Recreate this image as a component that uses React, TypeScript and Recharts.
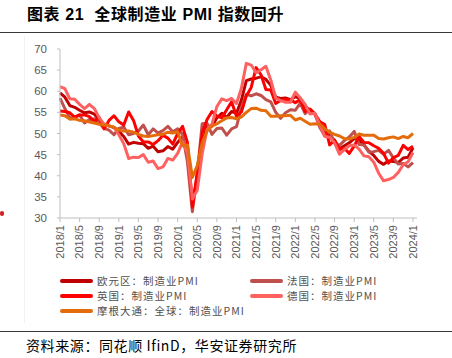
import React from "react";
import { LineChart, Line, XAxis, YAxis } from "recharts";

// Months 2018/1 .. 2024/1
const months: string[] = [];
for (let y = 2018; y <= 2024; y++) {
  for (let m = 1; m <= 12; m++) {
    if (y === 2024 && m > 1) break;
    months.push(`${y}/${m}`);
  }
}

const euroArea = [
  59.6, 58.6, 56.6, 56.2, 55.5, 54.9, 55.1, 54.6, 53.2, 52.0, 51.8, 51.4,
  50.5, 49.3, 47.5, 47.9, 47.7, 47.6, 46.5, 47.0, 45.7, 45.9, 46.9, 46.3,
  47.9, 49.2, 44.5, 33.4, 39.4, 47.4, 51.8, 51.7, 53.7, 54.8, 53.8, 55.2,
  54.8, 57.9, 62.5, 62.9, 63.1, 63.4, 62.8, 61.4, 58.6, 58.3, 58.4, 58.0,
  58.7, 58.2, 56.5, 55.5, 54.6, 52.1, 49.8, 49.6, 48.4, 46.4, 47.1, 47.8,
  48.8, 48.5, 47.3, 45.8, 44.8, 43.4, 42.7, 43.5, 43.4, 43.1, 44.2, 44.4,
  46.6,
];
const france = [
  58.4, 55.9, 53.7, 53.8, 54.4, 52.5, 53.3, 53.5, 52.5, 51.2, 50.8, 49.7,
  51.2, 51.5, 49.7, 50.0, 50.6, 52.0, 49.7, 51.1, 50.1, 50.7, 51.7, 50.4,
  51.1, 49.8, 43.2, 31.5, 40.6, 52.3, 52.4, 49.8, 51.2, 51.3, 49.6, 51.1,
  51.6, 56.1, 59.3, 58.9, 59.4, 59.0, 58.0, 57.5, 55.0, 53.6, 54.9, 55.6,
  55.5, 57.2, 54.7, 55.7, 54.6, 51.4, 49.5, 50.6, 47.7, 47.2, 48.3, 49.2,
  50.5, 47.4, 47.3, 45.6, 45.7, 46.0, 45.1, 46.0, 44.2, 42.8, 42.9, 42.1,
  43.1,
];
const uk = [
  55.3, 55.2, 54.9, 53.9, 54.4, 54.4, 54.0, 52.8, 53.8, 51.1, 53.1, 54.2,
  52.8, 52.0, 55.1, 53.1, 49.4, 48.0, 48.0, 47.4, 48.3, 49.6, 48.9, 47.5,
  50.0, 51.7, 47.8, 32.6, 40.7, 50.1, 53.3, 55.2, 54.1, 53.7, 55.6, 57.5,
  54.1, 55.1, 58.9, 60.9, 65.6, 63.9, 60.4, 60.3, 57.1, 57.8, 58.1, 57.9,
  57.3, 58.0, 55.2, 55.8, 54.6, 52.8, 52.1, 47.3, 48.4, 46.2, 46.5, 45.3,
  47.0, 49.3, 47.9, 47.8, 47.1, 46.5, 45.3, 43.0, 44.3, 44.8, 47.2, 46.2,
  47.0,
];
const germany = [
  61.1, 60.6, 58.2, 58.1, 56.9, 55.9, 56.9, 55.9, 53.7, 52.2, 51.8, 51.5,
  49.7, 47.6, 44.1, 44.4, 44.3, 45.0, 43.2, 43.5, 41.7, 42.1, 44.1, 43.7,
  45.3, 48.0, 45.4, 34.5, 36.6, 45.2, 51.0, 52.2, 56.4, 58.2, 57.8, 58.3,
  57.1, 60.7, 66.6, 66.2, 64.4, 65.1, 65.9, 62.6, 58.4, 57.8, 57.4, 57.4,
  59.8, 58.4, 56.9, 54.6, 54.8, 52.0, 49.3, 49.1, 47.8, 45.1, 46.2, 47.1,
  47.3, 46.3, 44.7, 44.5, 43.2, 40.6, 38.8, 39.1, 39.6, 40.8, 42.6, 43.3,
  45.5,
];
const global = [
  54.4, 54.2, 53.4, 53.5, 53.1, 53.0, 52.7, 52.5, 52.2, 52.0, 51.8, 51.5,
  50.8, 50.6, 50.6, 50.3, 49.8, 49.4, 49.3, 49.5, 49.7, 49.8, 50.3, 50.1,
  50.4, 47.1, 47.3, 39.6, 42.4, 47.8, 50.6, 51.8, 52.3, 53.0, 53.7, 53.8,
  53.5, 53.9, 55.0, 55.9, 56.0, 55.5, 55.4, 54.1, 54.1, 54.2, 54.2, 54.3,
  53.2, 53.6, 52.9, 52.2, 52.3, 52.2, 51.1, 50.3, 49.8, 49.4, 48.8, 48.7,
  49.1, 49.9, 49.6, 49.6, 49.6, 48.8, 48.7, 49.0, 49.2, 48.8, 49.3, 49.0,
  50.0,
];

const yTicks = [30, 35, 40, 45, 50, 55, 60, 65, 70];

const series = [
  { key: "euro", name: "欧元区：制造业PMI", color: "#C00000", values: euroArea },
  { key: "fr", name: "法国：制造业PMI", color: "#C0504D", values: france },
  { key: "uk", name: "英国：制造业PMI", color: "#FF0000", values: uk },
  { key: "de", name: "德国：制造业PMI", color: "#FF6161", values: germany },
  { key: "gl", name: "摩根大通：全球：制造业PMI", color: "#E46C0A", values: global },
];

const data = months.map((m, i) => {
  const row: Record<string, string | number> = { m };
  series.forEach((s) => {
    row[s.key] = s.values[i];
  });
  return row;
});

const AXIS = "#BFBFBF";
const TICK_TEXT = "#595959";

const XTick = (props: any) => {
  const { x, y, payload } = props;
  return (
    <g transform={`translate(${x},${y})`}>
      <text
        transform="rotate(-90)"
        textAnchor="end"
        dy="0.35em"
        fontSize={11}
        fill={TICK_TEXT}
        fontFamily="'Liberation Sans', Arial, sans-serif"
      >
        {payload.value}
      </text>
    </g>
  );
};

const legendPos = [
  { left: 60, top: 274 },
  { left: 250, top: 274 },
  { left: 60, top: 289 },
  { left: 250, top: 289 },
  { left: 60, top: 304 },
];

export default function App() {
  return (
    <div
      style={{
        position: "absolute",
        left: 0,
        top: 0,
        width: 452,
        height: 358,
        background: "#fff",
        overflow: "hidden",
        fontFamily: "'Liberation Sans', 'Noto Sans CJK SC', sans-serif",
      }}
    >
      <div
        style={{
          position: "absolute",
          left: 27,
          top: 4,
          fontSize: 16,
          fontWeight: "bold",
          lineHeight: "22px",
          color: "#000",
          whiteSpace: "pre",
          letterSpacing: 0.6,
        }}
      >
        {"图表 21  全球制造业 PMI 指数回升"}
      </div>
      <div style={{ position: "absolute", left: 0, top: 32, width: 452, height: 1, background: "#3a3a3a" }} />
      <div style={{ position: "absolute", left: 24, top: 36, width: 1, height: 287, background: "#F2F2F2" }} />
      <div style={{ position: "absolute", left: 0, top: 211, width: 4, height: 5, borderRadius: 2, background: "#D02020" }} />

      <div style={{ position: "absolute", left: 0, top: 0 }}>
        <LineChart
          width={452}
          height={270}
          data={data}
          margin={{ top: 49, right: 35, bottom: 0, left: 0 }}
        >
          <XAxis
            dataKey="m"
            interval={3}
            height={52}
            tick={<XTick />}
            tickSize={4}
            tickMargin={3}
            axisLine={{ stroke: AXIS }}
            tickLine={{ stroke: AXIS }}
            padding={{ left: 0, right: 4 }}
          />
          <YAxis
            domain={[30, 70]}
            ticks={yTicks}
            width={60}
            tickSize={3}
            tickMargin={10}
            axisLine={{ stroke: AXIS }}
            tickLine={{ stroke: AXIS }}
            tick={{ fontSize: 11.5, fill: TICK_TEXT, fontFamily: "'Liberation Sans', Arial, sans-serif" }}
            interval={0}
          />
          {series.map((s) => (
            <Line
              key={s.key}
              type="linear"
              dataKey={s.key}
              name={s.name}
              stroke={s.color}
              strokeWidth={3}
              strokeLinejoin="round"
              dot={false}
              activeDot={false}
              isAnimationActive={false}
            />
          ))}
        </LineChart>
      </div>

      {series.map((s, i) => (
        <div
          key={s.key}
          style={{
            position: "absolute",
            left: legendPos[i].left,
            top: legendPos[i].top,
            height: 14,
            display: "flex",
            alignItems: "center",
            whiteSpace: "nowrap",
          }}
        >
          <div style={{ width: 33, height: 4, borderRadius: 2, background: s.color, marginRight: 4 }} />
          <span
            style={{
              fontSize: 10.5,
              color: "#505050",
              fontFamily: "'Noto Sans CJK SC', sans-serif",
              lineHeight: "14px",
              letterSpacing: 1,
            }}
          >
            {s.name}
          </span>
        </div>
      ))}

      <div style={{ position: "absolute", left: 0, top: 331, width: 452, height: 1, background: "#3a3a3a" }} />
      <div
        style={{
          position: "absolute",
          left: 26,
          top: 336,
          fontSize: 14,
          lineHeight: "18px",
          color: "#000",
          fontFamily: "'Noto Sans CJK SC', sans-serif",
          whiteSpace: "pre",
          letterSpacing: 0.6,
        }}
      >
        {"资料来源：同花顺 IfinD，华安证券研究所"}
      </div>
    </div>
  );
}
